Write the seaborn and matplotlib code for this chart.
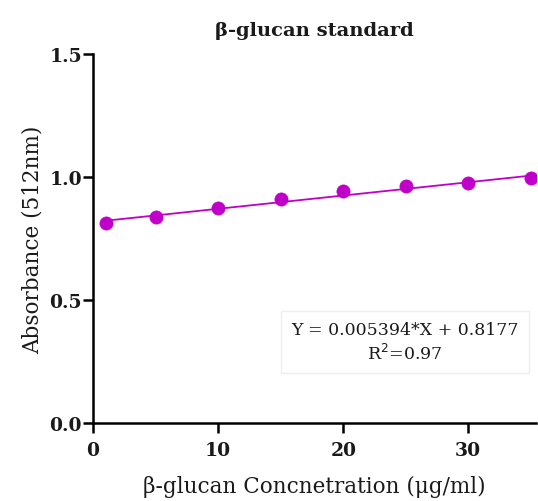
import numpy as np
import pandas as pd
import seaborn as sns
import matplotlib.pyplot as plt

sns.set_theme(style="ticks")
plt.rcParams['font.family'] = ['DejaVu Serif']

# data
conc = [1, 5, 10, 15, 20, 25, 30, 35]
absorb = [0.815, 0.840, 0.875, 0.910, 0.942, 0.963, 0.978, 0.997]
slope = 0.005394
intercept = 0.8177
r2 = 0.97

df = pd.DataFrame({'conc': conc, 'absorb': absorb})
df['fit'] = slope * df['conc'] + intercept

color = '#C000C8'

fig = plt.figure(figsize=(5.38, 5.02), dpi=100)
ax = fig.add_axes([0.173, 0.155, 0.823, 0.735])

sns.lineplot(data=df, x='conc', y='fit', color=color, linewidth=1.3, ax=ax)
sns.scatterplot(data=df, x='conc', y='absorb', color=color, s=90,
                edgecolor=color, linewidth=0.5, zorder=3, ax=ax)

ax.set_xlim(0, 35.4)
ax.set_ylim(0, 1.5)
ax.set_xticks([0, 10, 20, 30])
ax.set_yticks([0.0, 0.5, 1.0, 1.5])
ax.set_yticklabels(['0.0', '0.5', '1.0', '1.5'])

for side in ['top', 'right']:
    ax.spines[side].set_visible(False)
for side in ['left', 'bottom']:
    ax.spines[side].set_linewidth(1.8)
    ax.spines[side].set_color('black')
ax.tick_params(axis='both', direction='out', length=7, width=1.8, color='black',
               labelsize=13.5, labelcolor='#1a1a1a')
ax.tick_params(axis='x', pad=6)
ax.tick_params(axis='y', pad=1)
for lbl in ax.get_xticklabels() + ax.get_yticklabels():
    lbl.set_fontweight('bold')

ax.set_title('β-glucan standard', fontsize=14, fontweight='bold', pad=14, color='#1a1a1a')
ax.set_xlabel('β-glucan Concnetration (μg/ml)', fontsize=15.5, labelpad=11, color='#1a1a1a')
ax.set_ylabel('Absorbance (512nm)', fontsize=15.5, labelpad=4, color='#1a1a1a')

ax.text(0.705, 0.22, f'Y = {slope}*X + {intercept}\nR$^2$={r2}', transform=ax.transAxes,
        ha='center', va='center', fontsize=12.5, linespacing=1.3, color='#1a1a1a',
        bbox=dict(boxstyle='square,pad=0.6', facecolor='white', edgecolor='#eeeeee', linewidth=1))

fig.savefig('out.png', dpi=100)
